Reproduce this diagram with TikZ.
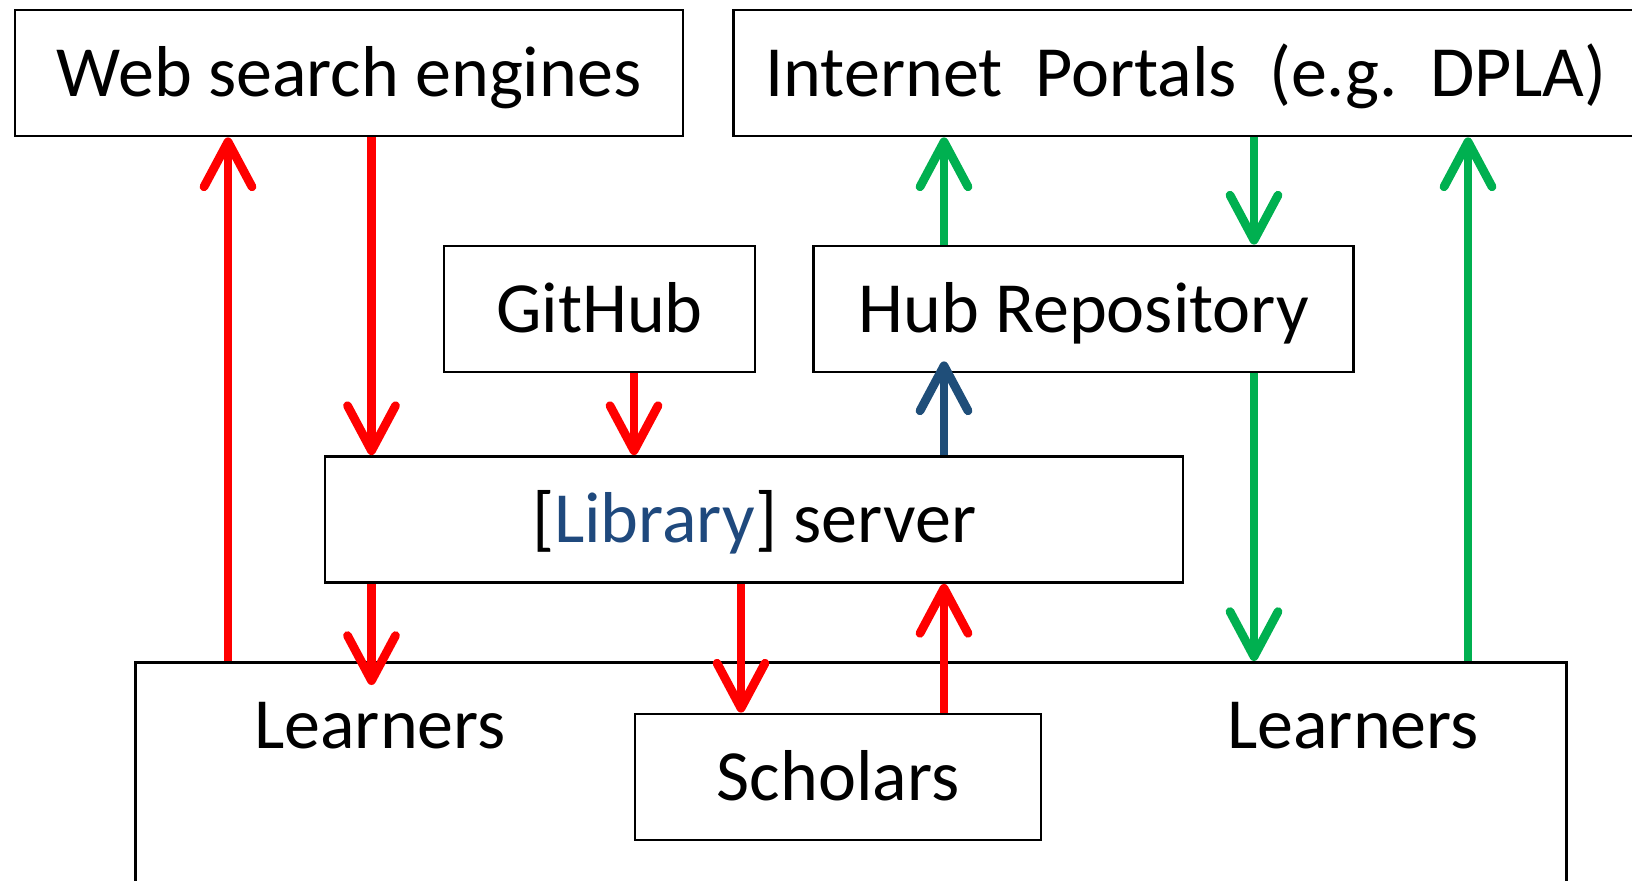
\documentclass[tikz,border=0pt]{standalone}
\usepackage{fontspec}
\setmainfont{Carlito}
\usepackage{xcolor}
\usepackage{tikz}
\usetikzlibrary{positioning, arrows.meta}
\definecolor{flowred}{RGB}{255,0,0}
\definecolor{flowgreen}{RGB}{0,176,80}
\definecolor{flowblue}{RGB}{31,78,121}
\definecolor{libblue}{RGB}{31,73,125}

\begin{document}
\begin{tikzpicture}[
        node distance=0.5cm,
        every node/.style={font=\fontsize{20.5}{24}\selectfont, text height=13.2pt, text depth=0pt},
        module/.style={rectangle, draw, line width=0.8pt, minimum height=1.26cm, text centered},
        flow/.style={line width=2.5pt, -{Straight Barb[length=4.5mm, width=4.8mm, round]}},
        redflow/.style={flow, flowred},
        greenflow/.style={flow, flowgreen},
        blueflow/.style={flow, flowblue}
    ]
        \useasboundingbox (0,0) rectangle (16.32,-8.81);
        % Nodes
        \node (web) [module, minimum width=6.68cm] at (3.49,-0.73) {Web search engines};
        \node (portals) [module, minimum width=9.04cm, right=0.48cm of web] {Internet\ \ Portals\ \ (e.g.\ \ DPLA)};
        \node (github) [module, minimum width=3.11cm] at (5.995,-3.09) {GitHub};
        \node (hub) [module, minimum width=5.4cm, right=0.56cm of github] {Hub Repository};
        \node (library) [module, minimum width=8.58cm] at (7.54,-5.195) {[\textcolor{libblue}{Library}] server};
        \node (users) [module, minimum width=14.31cm, minimum height=2.6cm, anchor=north west] at (1.34,-6.61) {};
        \node (scholars) [module, minimum width=4.06cm] at (8.38,-7.77) {Scholars};
        \node (learnersL) at (3.80,-7.25) {Learners};
        \node (learnersR) at (13.53,-7.25) {Learners};

        % Arrow columns
        \coordinate (xa) at (2.28,0);
        \coordinate (xb) at (3.715,0);
        \coordinate (xc) at (6.34,0);
        \coordinate (xd) at (7.41,0);
        \coordinate (xe) at (9.44,0);
        \coordinate (xf) at (12.54,0);
        \coordinate (xg) at (14.68,0);

        % Arrows
        \draw [redflow] (users.north -| xa) -- (web.south -| xa);
        \draw [redflow] (web.south -| xb) -- (library.north -| xb);
        \draw [redflow] (github.south -| xc) -- (library.north -| xc);
        \draw [redflow, shorten >=-0.24cm] (library.south -| xb) -- (users.north -| xb);
        \draw [redflow] (library.south -| xd) -- (scholars.north -| xd);
        \draw [redflow] (scholars.north -| xe) -- (library.south -| xe);
        \draw [blueflow, shorten >=-0.12cm] (library.north -| xe) -- (hub.south -| xe);
        \draw [greenflow] (hub.north -| xe) -- (portals.south -| xe);
        \draw [greenflow] (portals.south -| xf) -- (hub.north -| xf);
        \draw [greenflow] (hub.south -| xf) -- (users.north -| xf);
        \draw [greenflow] (users.north -| xg) -- (portals.south -| xg);
    \end{tikzpicture}
\end{document}
